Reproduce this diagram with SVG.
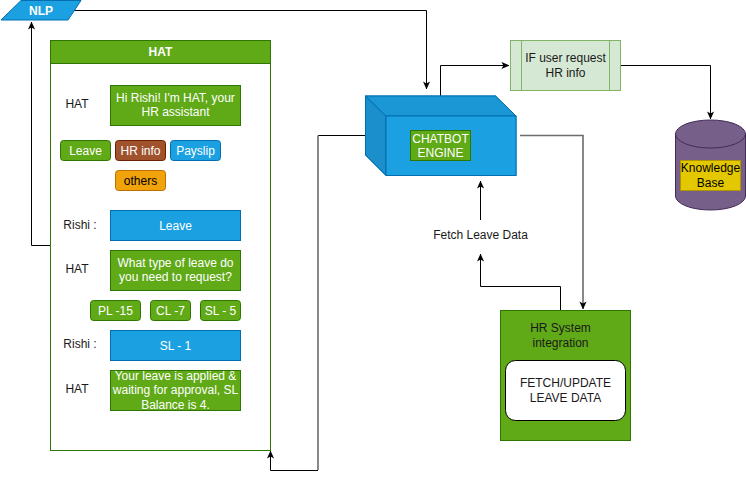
<svg xmlns="http://www.w3.org/2000/svg" width="746" height="479" viewBox="0 0 746 479">
<defs>
<marker id="arr" viewBox="0 0 10 10" refX="9.5" refY="5" markerWidth="8" markerHeight="8" markerUnits="userSpaceOnUse" orient="auto">
<path d="M0,0.5 L10,5 L0,9.5 L2.5,5 z" fill="#000"/>
</marker>
</defs>
<style>
text{font-family:"Liberation Sans",Arial,sans-serif;font-size:12px;text-anchor:middle;dominant-baseline:central}
.w{fill:#fff}
.d{fill:#1a1a1a}
.g{fill:#60a917;stroke:#2d7600;stroke-width:1}
.b{fill:#1ba1e2;stroke:#006eaf;stroke-width:1}
.c{fill:none;stroke:#000;stroke-width:1}
.cg{fill:none;stroke:#6b6b6b;stroke-width:1.6}
</style>
<g id="connectors">
<path class="c" d="M74,10.5 H426.5 V89" marker-end="url(#arr)"/>
<path class="c" d="M440.5,96 V65.5 H509" marker-end="url(#arr)"/>
<path class="c" d="M620,65.5 H710.5 V119" marker-end="url(#arr)"/>
<path class="cg" d="M520,135.5 H583 V309" marker-end="url(#arr)"/>
<path class="c" d="M560.5,319 V286.5 H480.5 V254" marker-end="url(#arr)"/>
<path class="c" d="M480.5,220 V181" marker-end="url(#arr)"/>
<path class="c" d="M365,135.5 H318"/>
<path class="cg" d="M318,135.5 V470"/>
<path class="c" d="M318,470.5 H270.5 V451" marker-end="url(#arr)"/>
<path class="c" d="M50,245.5 H31.5 V22" marker-end="url(#arr)"/>
</g>
<g id="nlp">
<polygon class="b" points="21,0.5 81,0.5 68,20 1,20"/>
<text x="41" y="10.5" class="w" style="font-weight:bold">NLP</text>
</g>
<g id="hat-panel">
<rect x="50.5" y="40.5" width="220" height="410" fill="#fff" stroke="#2d7600"/>
<rect x="50.5" y="40.5" width="220" height="23" class="g"/>
<text x="160.5" y="52" class="w" style="font-weight:bold">HAT</text>
</g>
<g id="row1">
<text x="77" y="104" class="d">HAT</text>
<rect x="110.5" y="85.5" width="130" height="40" class="g"/>
<text x="175.5" y="98" class="w">Hi Rishi! I'm HAT, your</text>
<text x="175.5" y="112" class="w">HR assistant</text>
</g>
<g id="btn-leave"><rect x="60.5" y="140.5" width="50" height="20" rx="3" class="g"/><text x="85.5" y="150.5" class="w">Leave</text></g>
<g id="btn-hrinfo"><rect x="115.5" y="140.5" width="50" height="20" rx="3" fill="#a0522d" stroke="#6d1f00"/><text x="140.5" y="150.5" class="w">HR info</text></g>
<g id="btn-payslip"><rect x="170.5" y="140.5" width="50" height="20" rx="3" class="b"/><text x="195.5" y="150.5" class="w">Payslip</text></g>
<g id="btn-others"><rect x="115.5" y="170.5" width="50" height="20" rx="3" fill="#f0a30a" stroke="#bd7000"/><text x="140.5" y="180.5" fill="#000">others</text></g>
<g id="row2">
<text x="80" y="225" class="d">Rishi :</text>
<rect x="110.5" y="210.5" width="130" height="30" class="b"/>
<text x="175.5" y="225.5" class="w">Leave</text>
</g>
<g id="row3">
<text x="77" y="269" class="d">HAT</text>
<rect x="110.5" y="250.5" width="130" height="40" class="g"/>
<text x="175.5" y="263" class="w">What type of leave do</text>
<text x="175.5" y="277" class="w">you need to request?</text>
</g>
<g id="btn-pl"><rect x="90.5" y="300.5" width="50" height="20" rx="3" class="g"/><text x="115.5" y="310.5" class="w">PL -15</text></g>
<g id="btn-cl"><rect x="150.5" y="300.5" width="40" height="20" rx="3" class="g"/><text x="170.5" y="310.5" class="w">CL -7</text></g>
<g id="btn-sl"><rect x="200.5" y="300.5" width="40" height="20" rx="3" class="g"/><text x="220.5" y="310.5" class="w">SL - 5</text></g>
<g id="row4">
<text x="80" y="344" class="d">Rishi :</text>
<rect x="110.5" y="330.5" width="130" height="30" class="b"/>
<text x="175.5" y="345.5" class="w">SL - 1</text>
</g>
<g id="row5">
<text x="77" y="389" class="d">HAT</text>
<rect x="110.5" y="370.5" width="130" height="40" class="g"/>
<text x="175.5" y="376" class="w">Your leave is applied &amp;</text>
<text x="175.5" y="390" class="w">waiting for approval, SL</text>
<text x="175.5" y="404.5" class="w">Balance is 4.</text>
</g>
<g id="chatbot">
<polygon points="365.5,96 495.5,96 516,116 516,175.5 386,175.5 365.5,155" fill="#1ba1e2" stroke="#006eaf"/>
<polygon points="365.5,96 386,116 386,175.5 365.5,155" fill="#1a8fcc" stroke="#006eaf"/>
<polygon points="365.5,96 495.5,96 516,116 386,116" fill="#1b97d6" stroke="#006eaf"/>
<rect x="386" y="116" width="130" height="59.5" fill="#1ba1e2" stroke="#006eaf"/>
<rect x="410.5" y="130.5" width="60" height="30" class="g"/>
<text x="440.5" y="138.5" class="w">CHATBOT</text>
<text x="440.5" y="153" class="w">ENGINE</text>
</g>
<g id="if-hr">
<rect x="510.5" y="40.5" width="110" height="50" fill="#d5e8d4" stroke="#82b366"/>
<path d="M521.5,40.5 V90.5 M609.5,40.5 V90.5" stroke="#82b366" fill="none"/>
<text x="565.5" y="58" class="d">IF user request</text>
<text x="565.5" y="73" class="d">HR info</text>
</g>
<g id="knowledge-base">
<path d="M675.5,134 A35,14 0 0 1 745.5,134 V196 A35,14 0 0 1 675.5,196 Z" fill="#76608a" stroke="#432d57"/>
<path d="M675.5,134 A35,14 0 0 0 745.5,134" fill="none" stroke="#432d57"/>
<rect x="680.5" y="160.5" width="60" height="30" fill="#e3c800" stroke="#b09500"/>
<text x="710.5" y="168" fill="#000">Knowledge</text>
<text x="710.5" y="183" fill="#000">Base</text>
</g>
<g id="fetch-label">
<text x="480.5" y="234.5" class="d">Fetch Leave Data</text>
</g>
<g id="hr-system">
<rect x="500.5" y="310.5" width="130" height="130" class="g"/>
<text x="560.5" y="328" class="d">HR System</text>
<text x="560.5" y="343" class="d">integration</text>
<rect x="505.5" y="360.5" width="120" height="60" rx="10" fill="#fff" stroke="#000"/>
<text x="565.5" y="383" class="d">FETCH/UPDATE</text>
<text x="565.5" y="398" class="d">LEAVE DATA</text>
</g>
</svg>
